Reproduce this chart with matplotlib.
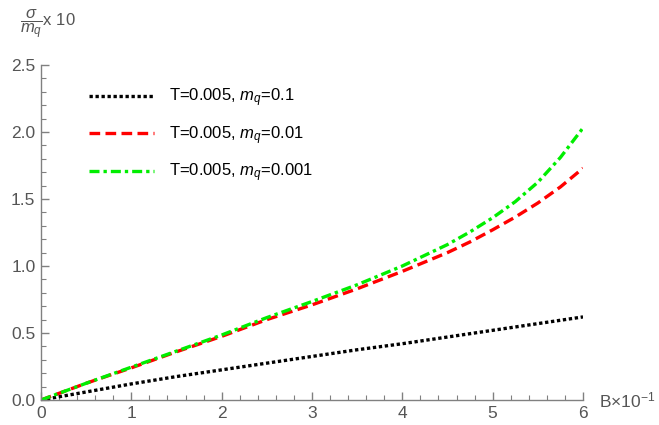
import matplotlib
matplotlib.use("Agg")
from matplotlib import pyplot as plt
from matplotlib.ticker import MultipleLocator

plt.rcParams['font.family'] = ['Liberation Sans', 'DejaVu Sans']
plt.rcParams['mathtext.fontset'] = 'custom'
plt.rcParams['mathtext.it'] = 'Liberation Sans:italic'
plt.rcParams['mathtext.rm'] = 'Liberation Sans'

# magnetic field B (in units of 10^-1)
B = [0, 0.5, 1, 1.5, 2, 2.5, 3, 3.5, 4, 4.5, 4.75, 5, 5.25, 5.5, 5.75, 6]

# sigma / m_q (x 10) for the three quark masses
sigma_mq_01 = [0, 0.06, 0.12, 0.175, 0.225, 0.275, 0.325, 0.375, 0.42, 0.47,
               0.495, 0.52, 0.545, 0.57, 0.595, 0.62]
sigma_mq_001 = [0, 0.125, 0.24, 0.36, 0.475, 0.60, 0.71, 0.83, 0.96, 1.10,
                1.18, 1.27, 1.365, 1.47, 1.59, 1.73]
sigma_mq_0001 = [0, 0.125, 0.245, 0.365, 0.485, 0.615, 0.735, 0.86, 1.0, 1.16,
                 1.255, 1.36, 1.48, 1.625, 1.81, 2.03]

labels = ["T=0.005, $m_q$=0.1", "T=0.005, $m_q$=0.01", "T=0.005, $m_q$=0.001"]

fig = plt.figure(figsize=(6.59, 4.25), dpi=100)
ax = fig.add_axes([41 / 659, 25 / 425, 542 / 659, 335 / 425])

ax.plot(B, sigma_mq_01, color='black', lw=2.4, dashes=(1.0, 0.8), label=labels[0])
ax.plot(B, sigma_mq_001, color='#ff0000', lw=2.4, dashes=(3.2, 1.6), label=labels[1])
ax.plot(B, sigma_mq_0001, color='#00ee00', lw=2.4, dashes=(3.0, 1.2, 1.0, 1.2), label=labels[2])

ax.set_xlim(0, 6)
ax.set_ylim(0, 2.5)

axis_gray = '#808080'
for side in ['top', 'right']:
    ax.spines[side].set_visible(False)
for side in ['left', 'bottom']:
    ax.spines[side].set_color(axis_gray)
    ax.spines[side].set_linewidth(1.0)

ax.xaxis.set_major_locator(MultipleLocator(1))
ax.xaxis.set_minor_locator(MultipleLocator(0.2))
ax.yaxis.set_major_locator(MultipleLocator(0.5))
ax.yaxis.set_minor_locator(MultipleLocator(0.1))
ax.set_yticks([0, 0.5, 1.0, 1.5, 2.0, 2.5])
ax.set_yticklabels(["0.0", "0.5", "1.0", "1.5", "2.0", "2.5"])
ax.tick_params(which='major', direction='in', length=6, width=1, color=axis_gray,
               labelsize=12.5, labelcolor='#555555', pad=4)
ax.tick_params(which='minor', direction='in', length=3.5, width=0.8, color=axis_gray)

ax.text(1.03, 0.0, "B×10$^{-1}$", transform=ax.transAxes, fontsize=12.5,
        color='#555555', ha='left', va='center')
fig.text(20 / 659, 1 - 24 / 425, r"$\dfrac{\sigma}{m_q}$x 10", fontsize=12,
         color='#555555', ha='left', va='center')

leg = ax.legend(loc='upper left', bbox_to_anchor=(0.06, 0.98), frameon=False,
                fontsize=12, handlelength=3.9, handletextpad=0.9, labelspacing=0.9)

fig.savefig("out.png", dpi=100)
